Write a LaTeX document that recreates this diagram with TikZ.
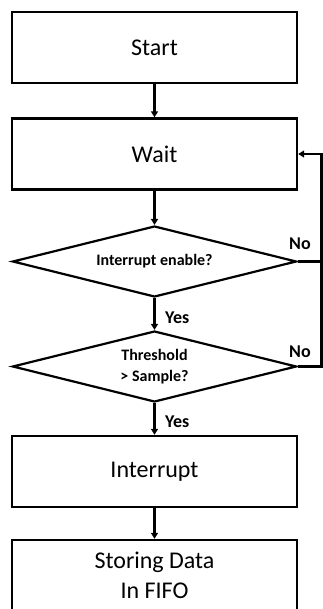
\documentclass[tikz,border=0pt]{standalone}
\usepackage{fontspec}
\setmainfont{Carlito}
\usepackage{tikz}
\usetikzlibrary{shapes.geometric}
\usetikzlibrary{arrows.meta}

\tikzset{
  procbox/.style={draw, line width=2.4pt, rectangle, minimum width=285pt, minimum height=71pt, inner sep=0pt, font=\fontsize{24}{30}\selectfont, align=center},
  decbox/.style={draw, line width=2.2pt, diamond, aspect=4, minimum width=284pt, minimum height=71pt, inner sep=0pt, font=\bfseries\fontsize{16}{21}\selectfont, align=center},
  flowline/.style={line width=2.4pt, -{Triangle[length=6pt,width=7pt]}},
  answer/.style={anchor=base west, inner sep=0pt, font=\bfseries\fontsize{18}{20}\selectfont}
}

\begin{document}
\begin{tikzpicture}[x=1pt,y=1pt]
\useasboundingbox (0,0) rectangle (323,-609);
% process boxes and decisions
\node [procbox] (start) at (154.5,-47.5) {Start};
\node [procbox] (wait) at (154.5,-154) {Wait};
\node [decbox] (irqen) at (154.5,-261.5) {Interrupt enable?};
\node [decbox] (thresh) at (154.5,-366.5) {Threshold\\> Sample?};
\node [procbox] (irq) at (154.5,-471.5) {Interrupt};
\node [procbox] (fifo) at (154.5,-575.5) {Storing Data\\In FIFO};
% main flow
\draw [flowline] (start) -- (wait);
\draw [flowline] (wait) -- (irqen);
\draw [flowline] (irqen) -- (thresh);
\draw [flowline] (thresh) -- (irq);
\draw [flowline] (irq) -- (fifo);
% feedback loop
\coordinate (loopA) at (321.5,-261.5);
\coordinate (loopB) at (321.5,-366.5);
\draw [line width=2.4pt] (irqen.east) -- (loopA);
\draw [flowline] (thresh.east) -- (loopB) |- (wait.east);
% labels
\node [answer] (noA) at (289,-250) {No};
\node [answer] (noB) at (289,-357) {No};
\node [answer] (yesA) at (165,-323) {Yes};
\node [answer] (yesB) at (165,-427) {Yes};
\end{tikzpicture}
\end{document}
